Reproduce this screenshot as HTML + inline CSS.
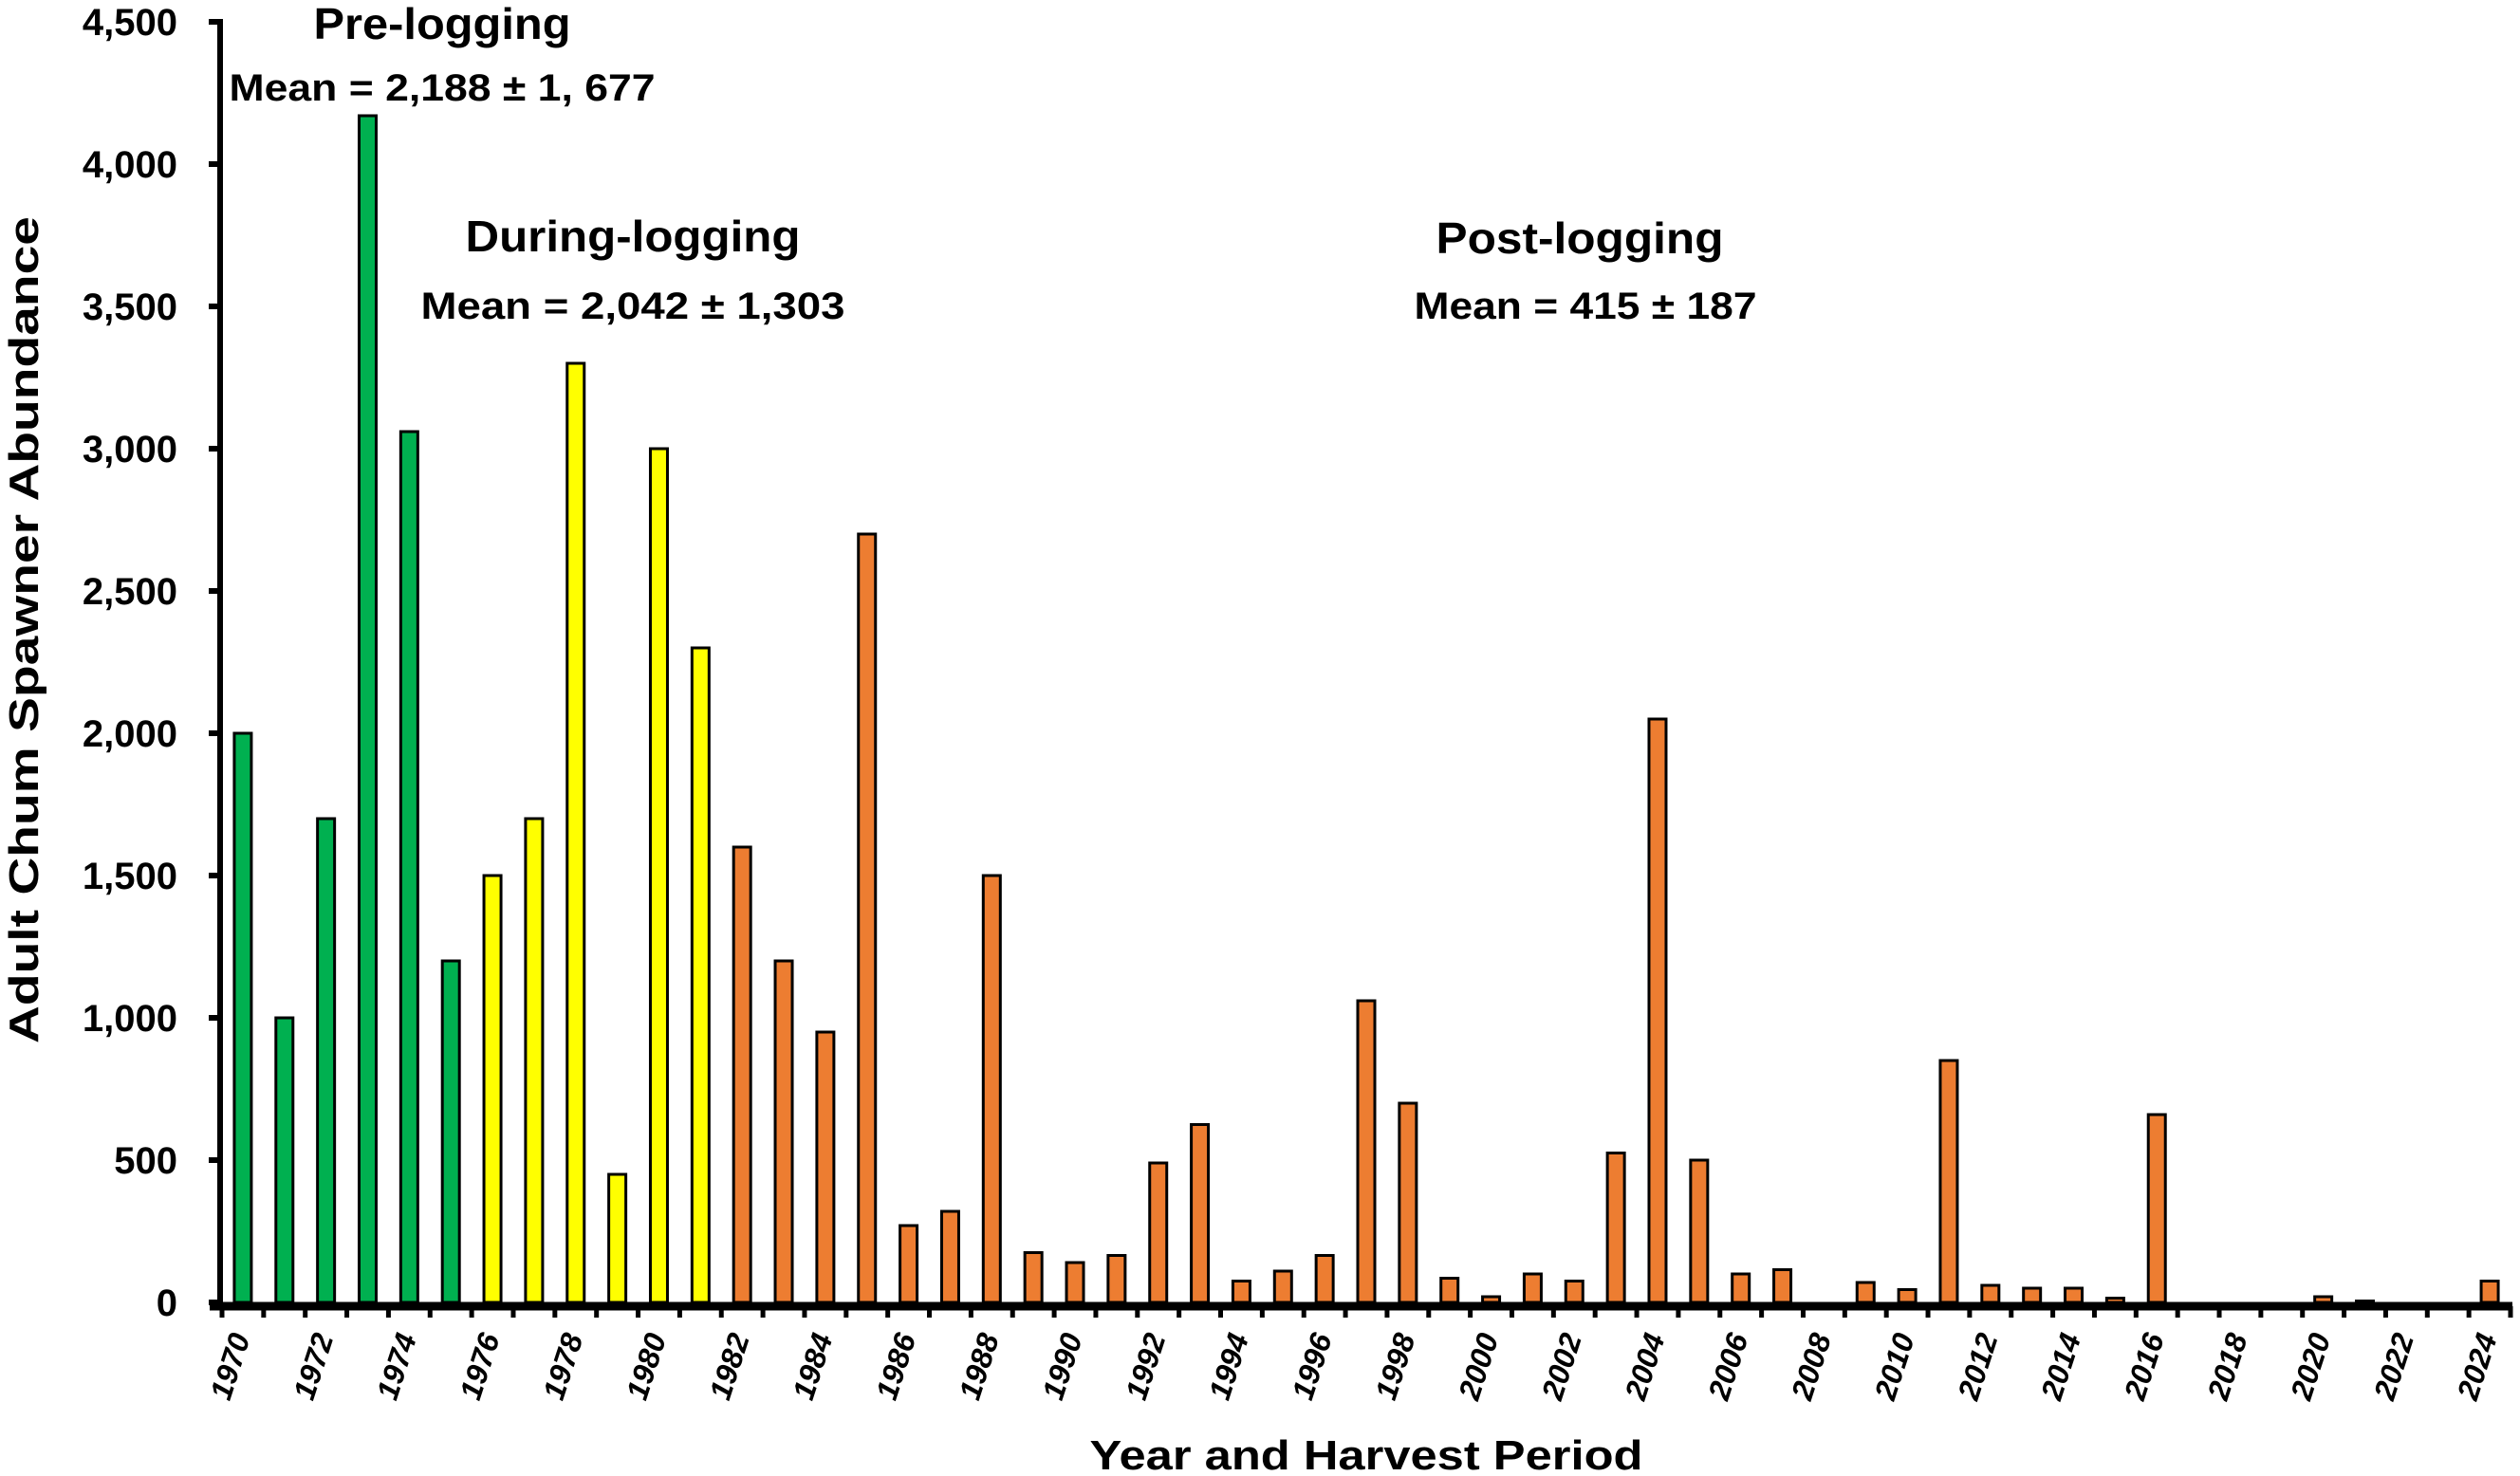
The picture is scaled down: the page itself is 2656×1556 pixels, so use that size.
<!DOCTYPE html>
<html><head><meta charset="utf-8"><style>
html,body{margin:0;padding:0;background:#fff;}
svg{display:block;font-family:"Liberation Sans",Arial,sans-serif;}
</style></head><body>
<svg id="chart" width="2656" height="1556" viewBox="0 0 2656 1556" xmlns="http://www.w3.org/2000/svg">
<g id="bars"></g>
<g id="axes"></g>
<g id="labels"></g>
<text transform="translate(40,664) rotate(-90)" text-anchor="middle" font-weight="bold" font-size="44" textLength="872" lengthAdjust="spacingAndGlyphs">Adult Chum Spawner Abundance</text>
<text x="1440" y="1549" text-anchor="middle" font-weight="bold" font-size="44" textLength="583" lengthAdjust="spacingAndGlyphs">Year and Harvest Period</text>
<text x="466" y="41" text-anchor="middle" font-weight="bold" font-size="46" textLength="271" lengthAdjust="spacingAndGlyphs">Pre-logging</text>
<text x="466" y="106" text-anchor="middle" font-weight="bold" font-size="40" textLength="449" lengthAdjust="spacingAndGlyphs">Mean = 2,188 ± 1, 677</text>
<text x="667" y="265" text-anchor="middle" font-weight="bold" font-size="46" textLength="353" lengthAdjust="spacingAndGlyphs">During-logging</text>
<text x="667" y="336" text-anchor="middle" font-weight="bold" font-size="40" textLength="447" lengthAdjust="spacingAndGlyphs">Mean = 2,042 ± 1,303</text>
<text x="1665" y="267" text-anchor="middle" font-weight="bold" font-size="46" textLength="303" lengthAdjust="spacingAndGlyphs">Post-logging</text>
<text x="1671" y="336" text-anchor="middle" font-weight="bold" font-size="40" textLength="361" lengthAdjust="spacingAndGlyphs">Mean = 415 ± 187</text>
</svg>
<script>
const years = [];
for (let y = 1970; y <= 2024; y++) years.push(y);
const abundance = [2000,1000,1700,4170,3060,1200,1500,1700,3300,450,3000,2300,1600,1200,950,2700,270,320,1500,175,140,165,490,625,75,110,165,1060,700,85,20,100,75,525,2050,500,100,115,0,70,45,850,60,50,50,15,660,0,0,0,20,5,0,0,75];
const periods = ["pre","pre","pre","pre","pre","pre","during","during","during","during","during","during","post","post","post","post","post","post","post","post","post","post","post","post","post","post","post","post","post","post","post","post","post","post","post","post","post","post","post","post","post","post","post","post","post","post","post","post","post","post","post","post","post","post","post"];
const periodColors = {pre:"#00b050", during:"#ffff00", post:"#ed7d31"};
const yTicks = [0,500,1000,1500,2000,2500,3000,3500,4000,4500];
const yTickLabels = ["0","500","1,000","1,500","2,000","2,500","3,000","3,500","4,000","4,500"];

const NS = "http://www.w3.org/2000/svg";
const x0 = 234, x1 = 2646, y0 = 1373, yMax = 4500, yTop = 23;
const bw = (x1 - x0) / years.length;
function xScale(i){ return x0 + (i + 0.5) * bw; }
function yScale(v){ return y0 - (v / yMax) * (y0 - yTop); }
function mk(tag, attrs, parent){ const e = document.createElementNS(NS, tag); for (const k in attrs) e.setAttribute(k, attrs[k]); parent.appendChild(e); return e; }

const gb = document.getElementById("bars");
abundance.forEach((v, i) => {
  const cx = xScale(i), top = yScale(v), w = 18;
  const r = mk("rect", {x: cx - w/2, y: top, width: w, height: Math.max(0, y0 - top), fill: periodColors[periods[i]], stroke: "#000", "stroke-width": 3}, gb);
  
  
});

const ga = document.getElementById("axes");
const ya = mk("line", {x1: 232, y1: yTop - 3, x2: 232, y2: 1381, stroke: "#000", "stroke-width": 6}, ga);


const xa = mk("line", {x1: 221, y1: 1377, x2: x1 + 2, y2: 1377, stroke: "#000", "stroke-width": 9}, ga);


for (let i = 0; i <= years.length; i++) {
  const tx = x0 + i * bw;
  const t = mk("line", {x1: tx, y1: 1377, x2: tx, y2: 1389, stroke: "#000", "stroke-width": 5}, ga);
  
  
}
const gl = document.getElementById("labels");
yTicks.forEach((v, i) => {
  const ty = yScale(v);
  const t = mk("line", {x1: 220, y1: ty, x2: 232, y2: ty, stroke: "#000", "stroke-width": 6}, ga);
  
  
  const lb = mk("text", {x: 187, y: ty + 14, "text-anchor": "end", "font-size": 40, "font-weight": "bold"}, gl);
  lb.textContent = yTickLabels[i];
  
  
});
years.forEach((yr, i) => {
  if (yr % 2 !== 0) return;
  const cx = xScale(i) + 8;
  const lb = mk("text", {transform: `translate(${cx},1410) rotate(-72)`, "text-anchor": "end", "font-size": 32, "font-weight": "bold", "font-style": "italic"}, gl);
  lb.textContent = String(yr);
  
  
});
</script>
</body></html>
